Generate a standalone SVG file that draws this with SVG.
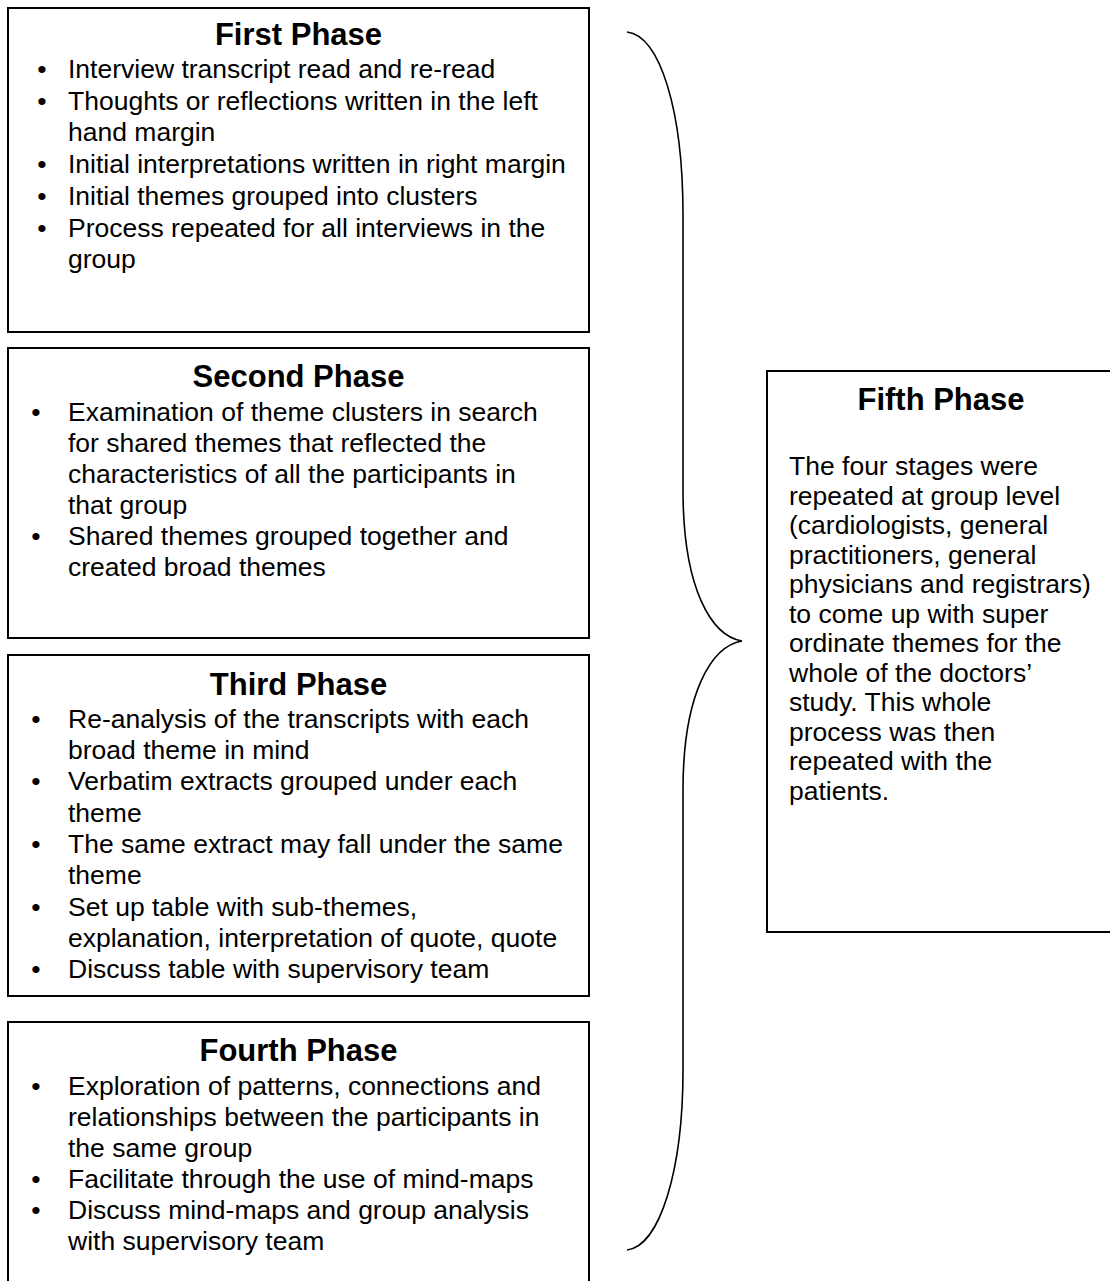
<svg xmlns="http://www.w3.org/2000/svg" width="1110" height="1281" viewBox="0 0 1110 1281">
<style>
.box{fill:#fff;stroke:#000;stroke-width:2}
.t{font-family:"Liberation Sans",Arial,sans-serif;font-size:31px;font-weight:bold;text-anchor:middle;fill:#000}
.b{font-family:"Liberation Sans",Arial,sans-serif;font-size:26.5px;fill:#000}
.d{font-family:"Liberation Sans",Arial,sans-serif;font-size:26.5px;fill:#000;text-anchor:middle}
.brace{fill:none;stroke:#000;stroke-width:1.6}
</style>
<rect width="1110" height="1281" fill="#fff"/>
<g id="first-phase">
<rect class="box" x="8" y="8" width="581" height="324"/>
<text class="t" x="298.5" y="45">First Phase</text>
<text class="d" x="42" y="78">•</text><text class="b" x="68" y="78">Interview transcript read and re-read</text>
<text class="d" x="42" y="110">•</text><text class="b" x="68" y="110">Thoughts or reflections written in the left</text>
<text class="b" x="68" y="141">hand margin</text>
<text class="d" x="42" y="173">•</text><text class="b" x="68" y="173">Initial interpretations written in right margin</text>
<text class="d" x="42" y="205">•</text><text class="b" x="68" y="205">Initial themes grouped into clusters</text>
<text class="d" x="42" y="237">•</text><text class="b" x="68" y="237">Process repeated for all interviews in the</text>
<text class="b" x="68" y="268">group</text>
</g>
<g id="second-phase">
<rect class="box" x="8" y="348" width="581" height="290"/>
<text class="t" x="298.5" y="387">Second Phase</text>
<text class="d" x="36" y="421">•</text><text class="b" x="68" y="421">Examination of theme clusters in search</text>
<text class="b" x="68" y="452">for shared themes that reflected the</text>
<text class="b" x="68" y="483">characteristics of all the participants in</text>
<text class="b" x="68" y="514">that group</text>
<text class="d" x="36" y="545">•</text><text class="b" x="68" y="545">Shared themes grouped together and</text>
<text class="b" x="68" y="576">created broad themes</text>
</g>
<g id="third-phase">
<rect class="box" x="8" y="655" width="581" height="341"/>
<text class="t" x="298.5" y="695">Third Phase</text>
<text class="d" x="36" y="728">•</text><text class="b" x="68" y="728">Re-analysis of the transcripts with each</text>
<text class="b" x="68" y="759">broad theme in mind</text>
<text class="d" x="36" y="790">•</text><text class="b" x="68" y="790">Verbatim extracts grouped under each</text>
<text class="b" x="68" y="822">theme</text>
<text class="d" x="36" y="853">•</text><text class="b" x="68" y="853">The same extract may fall under the same</text>
<text class="b" x="68" y="884">theme</text>
<text class="d" x="36" y="916">•</text><text class="b" x="68" y="916">Set up table with sub-themes,</text>
<text class="b" x="68" y="947">explanation, interpretation of quote, quote</text>
<text class="d" x="36" y="978">•</text><text class="b" x="68" y="978">Discuss table with supervisory team</text>
</g>
<g id="fourth-phase">
<rect class="box" x="8" y="1022" width="581" height="280"/>
<text class="t" x="298.5" y="1061">Fourth Phase</text>
<text class="d" x="36" y="1095">•</text><text class="b" x="68" y="1095">Exploration of patterns, connections and</text>
<text class="b" x="68" y="1126">relationships between the participants in</text>
<text class="b" x="68" y="1157">the same group</text>
<text class="d" x="36" y="1188">•</text><text class="b" x="68" y="1188">Facilitate through the use of mind-maps</text>
<text class="d" x="36" y="1219">•</text><text class="b" x="68" y="1219">Discuss mind-maps and group analysis</text>
<text class="b" x="68" y="1250">with supervisory team</text>
</g>
<g id="fifth-phase">
<rect class="box" x="767" y="371" width="360" height="561"/>
<text class="t" x="941" y="410">Fifth Phase</text>
<text class="b" x="789" y="475">The four stages were</text>
<text class="b" x="789" y="504.5">repeated at group level</text>
<text class="b" x="789" y="534">(cardiologists, general</text>
<text class="b" x="789" y="563.5">practitioners, general</text>
<text class="b" x="789" y="593">physicians and registrars)</text>
<text class="b" x="789" y="622.5">to come up with super</text>
<text class="b" x="789" y="652">ordinate themes for the</text>
<text class="b" x="789" y="681.5">whole of the doctors’</text>
<text class="b" x="789" y="711">study. This whole</text>
<text class="b" x="789" y="740.5">process was then</text>
<text class="b" x="789" y="770">repeated with the</text>
<text class="b" x="789" y="799.5">patients.</text>
</g>
<g id="connectors">
<path class="brace" d="M627,32 C660,36 683,110 683,215 L683,490 C683,590 712,636 742,641 C712,646 683,692 683,790 L683,1070 C683,1170 660,1246 627,1250"/>
</g>
</svg>
